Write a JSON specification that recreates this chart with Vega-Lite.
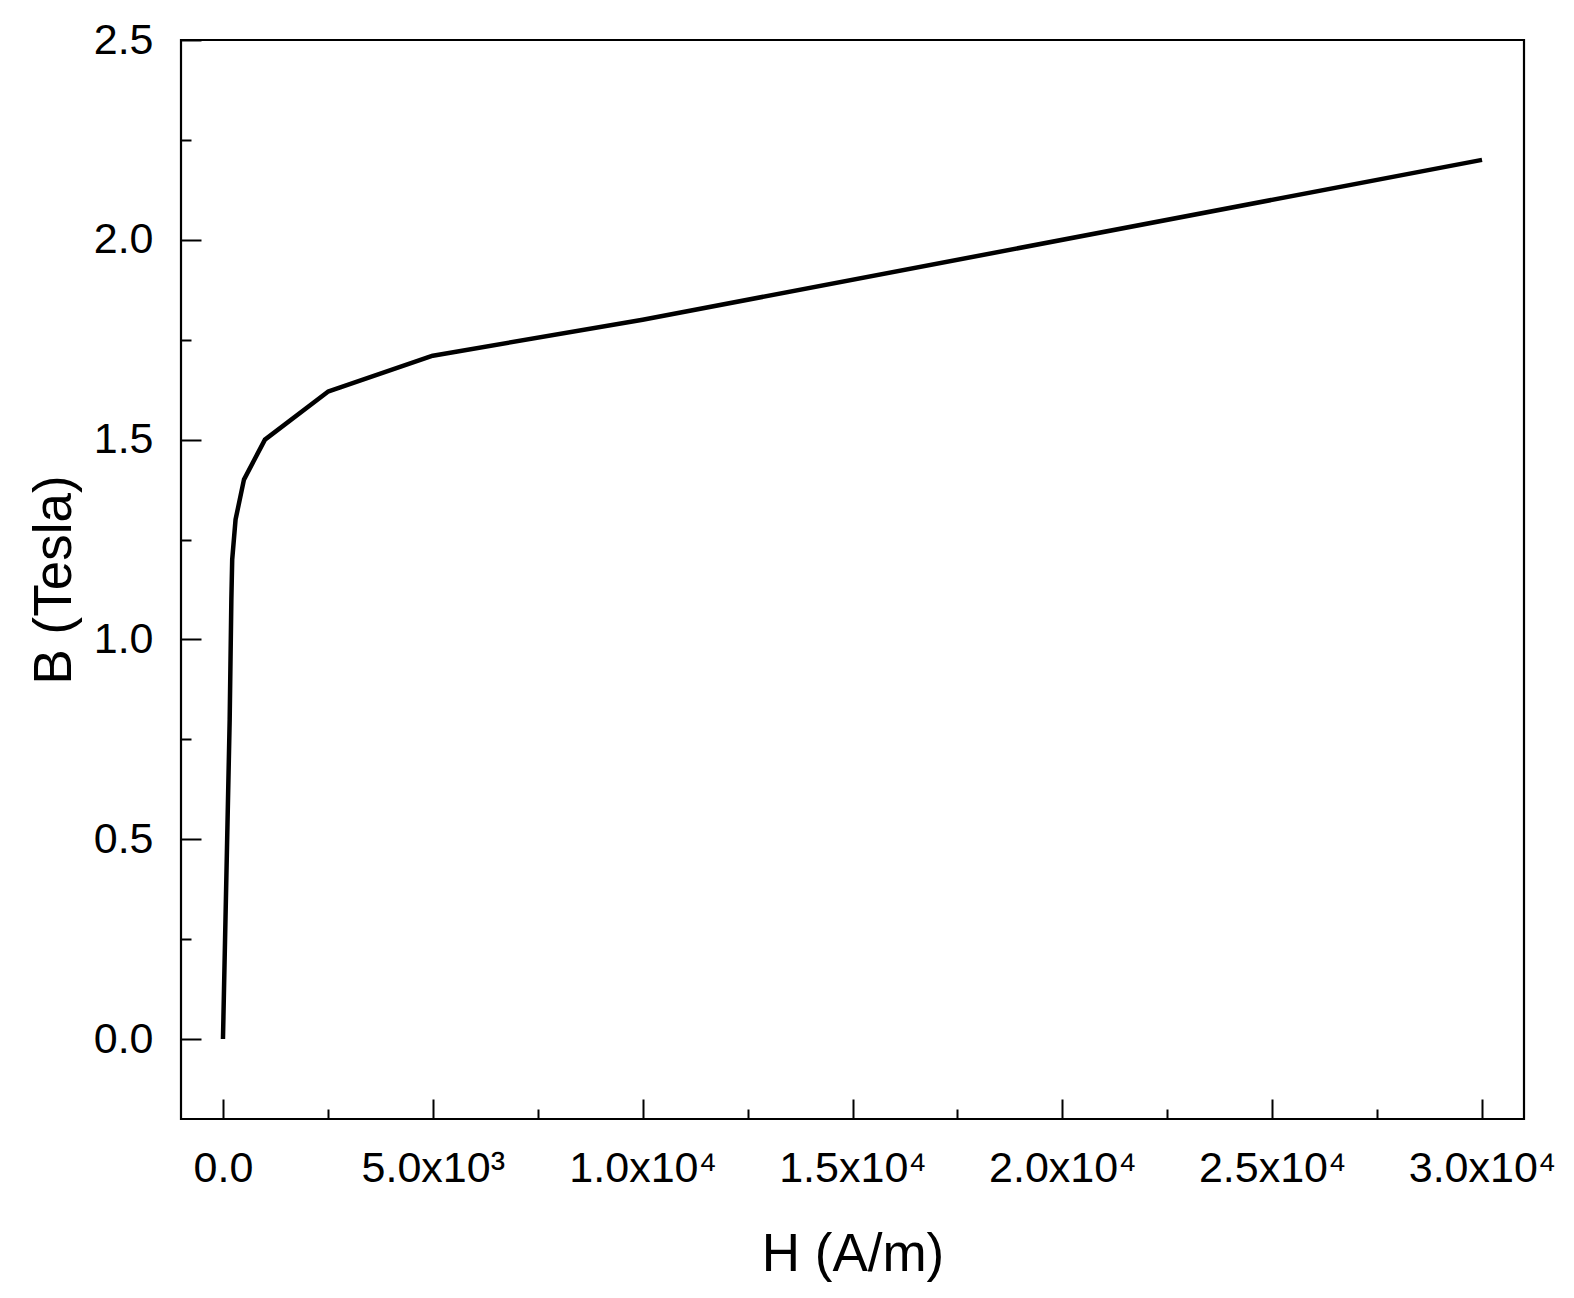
{
  "$schema": "https://vega.github.io/schema/vega-lite/v6.json",
  "autosize": {"type": "none"},
  "padding": {"left": 181, "top": 40, "right": 50, "bottom": 179},
  "width": 1343,
  "height": 1079,
  "background": "white",
  "config": {
    "view": {"stroke": "black", "strokeWidth": 2.2},
    "font": "Liberation Sans",
    "axis": {"grid": false, "domain": false, "labelFont": "Liberation Sans", "titleFont": "Liberation Sans", "labelColor": "black", "titleColor": "black", "tickColor": "black"}
  },
  "data": {
    "values": [
      {"H": 0, "B": 0.0},
      {"H": 100, "B": 0.5},
      {"H": 160, "B": 0.8},
      {"H": 200, "B": 1.1},
      {"H": 220, "B": 1.2},
      {"H": 300, "B": 1.3},
      {"H": 500, "B": 1.4},
      {"H": 1000, "B": 1.5},
      {"H": 2500, "B": 1.62},
      {"H": 5000, "B": 1.71},
      {"H": 10000, "B": 1.8},
      {"H": 30000, "B": 2.2}
    ]
  },
  "layer": [
    {
      "mark": {"type": "line", "color": "black", "strokeWidth": 4.5, "strokeJoin": "round", "clip": true},
      "encoding": {
        "x": {
          "field": "H", "type": "quantitative",
          "scale": {"domain": [-1000, 31000], "nice": false, "zero": false},
          "axis": {
            "orient": "bottom",
            "title": "H (A/m)",
            "titleFontSize": 53, "titleFontWeight": "normal", "titlePadding": 38,
            "values": [0, 5000, 10000, 15000, 20000, 25000, 30000],
            "ticks": false,
            "labelFontSize": 43, "labelPadding": 28,
            "labelFlush": false, "labelOverlap": false,
            "labelExpr": "datum.value == 0 ? '0.0' : (datum.value == 5000 ? '5.0x10³' : format(datum.value / 10000, '.1f') + 'x10⁴')"
          }
        },
        "y": {
          "field": "B", "type": "quantitative",
          "scale": {"domain": [-0.2, 2.5], "nice": false, "zero": false},
          "axis": {
            "orient": "left",
            "title": "B (Tesla)",
            "titleFontSize": 53, "titleFontWeight": "normal", "titlePadding": 12,
            "values": [0, 0.5, 1, 1.5, 2, 2.5],
            "ticks": false,
            "format": ".1f",
            "labelFontSize": 43, "labelPadding": 28,
            "labelFlush": false, "labelOverlap": false
          }
        }
      }
    },
    {
      "mark": {"type": "point", "opacity": 0},
      "encoding": {
        "x": {
          "field": "H", "type": "quantitative",
          "axis": {"orient": "bottom", "title": null, "labels": false, "values": [0, 5000, 10000, 15000, 20000, 25000, 30000], "tickSize": -20, "tickWidth": 2}
        },
        "y": {
          "field": "B", "type": "quantitative",
          "axis": {"orient": "left", "title": null, "labels": false, "values": [0, 0.5, 1, 1.5, 2, 2.5], "tickSize": -20, "tickWidth": 2}
        }
      }
    },
    {
      "mark": {"type": "point", "opacity": 0},
      "encoding": {
        "x": {
          "field": "H", "type": "quantitative",
          "axis": {"orient": "bottom", "title": null, "labels": false, "values": [2500, 7500, 12500, 17500, 22500, 27500], "tickSize": -10, "tickWidth": 2}
        },
        "y": {
          "field": "B", "type": "quantitative",
          "axis": {"orient": "left", "title": null, "labels": false, "values": [0.25, 0.75, 1.25, 1.75, 2.25], "tickSize": -10, "tickWidth": 2}
        }
      }
    }
  ],
  "resolve": {"axis": {"x": "independent", "y": "independent"}}
}
